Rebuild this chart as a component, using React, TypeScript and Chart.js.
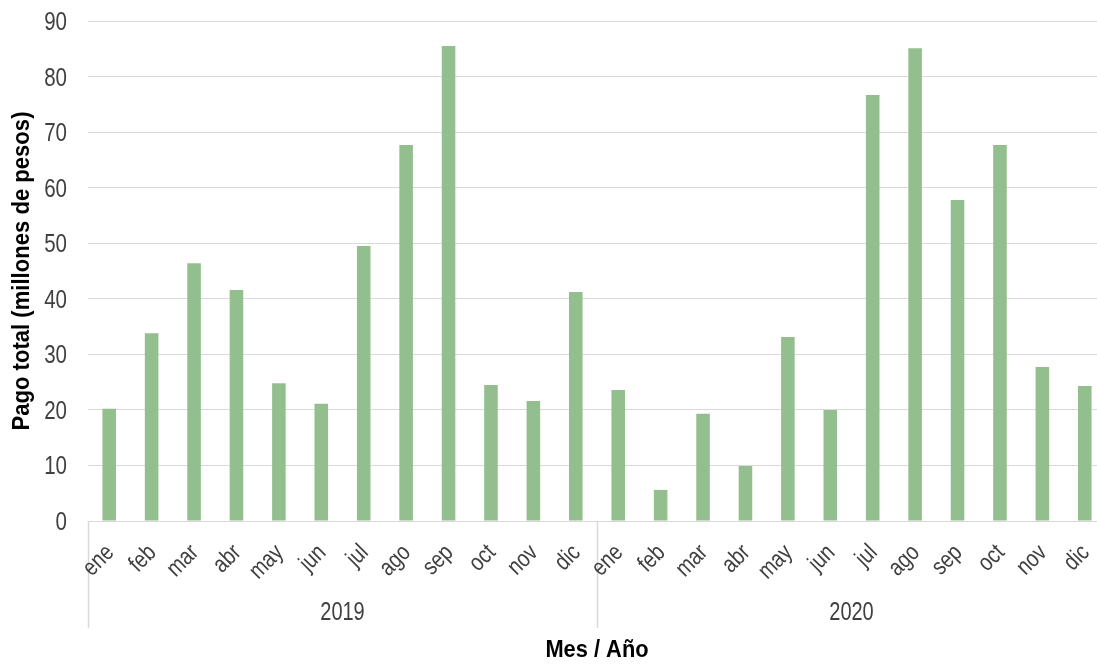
import React, { useEffect, useRef } from "react";
import { Chart, registerables } from "chart.js";

Chart.register(...registerables);

const months = ["ene", "feb", "mar", "abr", "may", "jun", "jul", "ago", "sep", "oct", "nov", "dic"];
const years = ["2019", "2020"];
const values2019 = [20.2, 33.8, 46.4, 41.6, 24.8, 21.1, 49.5, 67.7, 85.5, 24.5, 21.6, 41.2];
const values2020 = [23.6, 5.6, 19.3, 9.9, 33.1, 20.0, 76.7, 85.1, 57.8, 67.7, 27.7, 24.3];
const yTicks = [0, 10, 20, 30, 40, 50, 60, 70, 80, 90];
const yTitle = "Pago total (millones de pesos)";
const xTitle = "Mes / Año";

const FONT = "'Liberation Sans', Arial, sans-serif";
const TEXT = "#404040";
const GRID = "#d9d9d9";
const BAR = "#93bf8e";

function drawText(
  ctx: CanvasRenderingContext2D,
  text: string,
  x: number,
  y: number,
  opts: { size: number; bold?: boolean; align?: CanvasTextAlign; baseline?: CanvasTextBaseline; rot?: number; sx?: number; color?: string }
) {
  ctx.save();
  ctx.translate(x, y);
  if (opts.rot) ctx.rotate(opts.rot);
  ctx.scale(opts.sx ?? 0.82, 1);
  ctx.font = `${opts.bold ? "bold " : ""}${opts.size}px ${FONT}`;
  ctx.fillStyle = opts.color ?? TEXT;
  ctx.textAlign = opts.align ?? "center";
  ctx.textBaseline = opts.baseline ?? "alphabetic";
  ctx.fillText(text, 0, 0);
  ctx.restore();
}

const textPlugin = {
  id: "textPlugin",
  afterDraw(chart: any) {
    const { ctx, scales, chartArea } = chart;
    const x = scales.x;
    const y = scales.y;
    const bottom = chartArea.bottom;
    ctx.save();
    // group separators
    ctx.strokeStyle = GRID;
    ctx.lineWidth = 1.5;
    const seps = [-0.5, months.length - 0.5, months.length * years.length - 0.5];
    seps.forEach((v) => {
      const px = Math.round(x.getPixelForValue(v)) + 0.5;
      ctx.beginPath();
      ctx.moveTo(px, bottom);
      ctx.lineTo(px, 628);
      ctx.stroke();
    });
    ctx.restore();

    // y tick labels
    y.ticks.forEach((t: any) => {
      const py = y.getPixelForValue(t.value);
      drawText(ctx, String(t.value), chartArea.left - 21, py + 9, { size: 25, align: "right" });
    });

    // month labels
    const labels: string[] = chart.data.labels;
    labels.forEach((lab, i) => {
      const px = x.getPixelForValue(i);
      drawText(ctx, lab, px + 1, bottom + 28, { size: 24, align: "right", baseline: "middle", rot: -Math.PI / 4 });
    });

    // year labels
    years.forEach((yr, i) => {
      const a = x.getPixelForValue(i * months.length - 0.5);
      const b = x.getPixelForValue((i + 1) * months.length - 0.5);
      drawText(ctx, yr, (a + b) / 2, 620, { size: 25, sx: 0.8 });
    });

    // titles
    drawText(ctx, xTitle, (chartArea.left + chartArea.right) / 2, 657, { size: 24, bold: true, sx: 0.91, color: "#000" });
    drawText(ctx, yTitle, 29, (chartArea.top + chartArea.bottom) / 2, {
      size: 24,
      bold: true,
      sx: 0.92,
      color: "#000",
      rot: -Math.PI / 2,
    });
  },
};

export default function App() {
  const ref = useRef<HTMLCanvasElement | null>(null);
  useEffect(() => {
    document.body.style.margin = "0";
    document.body.style.overflow = "hidden";
    const labels = years.flatMap(() => months);
    const data = [...values2019, ...values2020];
    const chart = new Chart(ref.current as HTMLCanvasElement, {
      type: "bar",
      data: {
        labels,
        datasets: [
          {
            data,
            backgroundColor: BAR,
            borderWidth: 0,
            barPercentage: 0.32,
            categoryPercentage: 1,
          },
        ],
      },
      plugins: [textPlugin],
      options: {
        animation: false,
        responsive: false,
        maintainAspectRatio: false,
        layout: { padding: { top: 21, right: 14, bottom: 0, left: 0 } },
        plugins: { legend: { display: false }, tooltip: { enabled: false } },
        scales: {
          x: {
            afterFit: (s: any) => {
              s.height = 143;
            },
            grid: { display: false, drawTicks: false },
            border: { display: false },
            ticks: { display: false, autoSkip: false },
          },
          y: {
            min: 0,
            max: 90,
            afterFit: (s: any) => {
              s.width = 88;
            },
            afterBuildTicks: (s: any) => {
              s.ticks = yTicks.map((v) => ({ value: v }));
            },
            grid: { color: GRID, lineWidth: 1, drawTicks: false },
            border: { display: false },
            ticks: { display: false },
          },
        },
      },
    });
    return () => chart.destroy();
  }, []);
  return <canvas ref={ref} width={1120} height={664} style={{ display: "block" }} />;
}
